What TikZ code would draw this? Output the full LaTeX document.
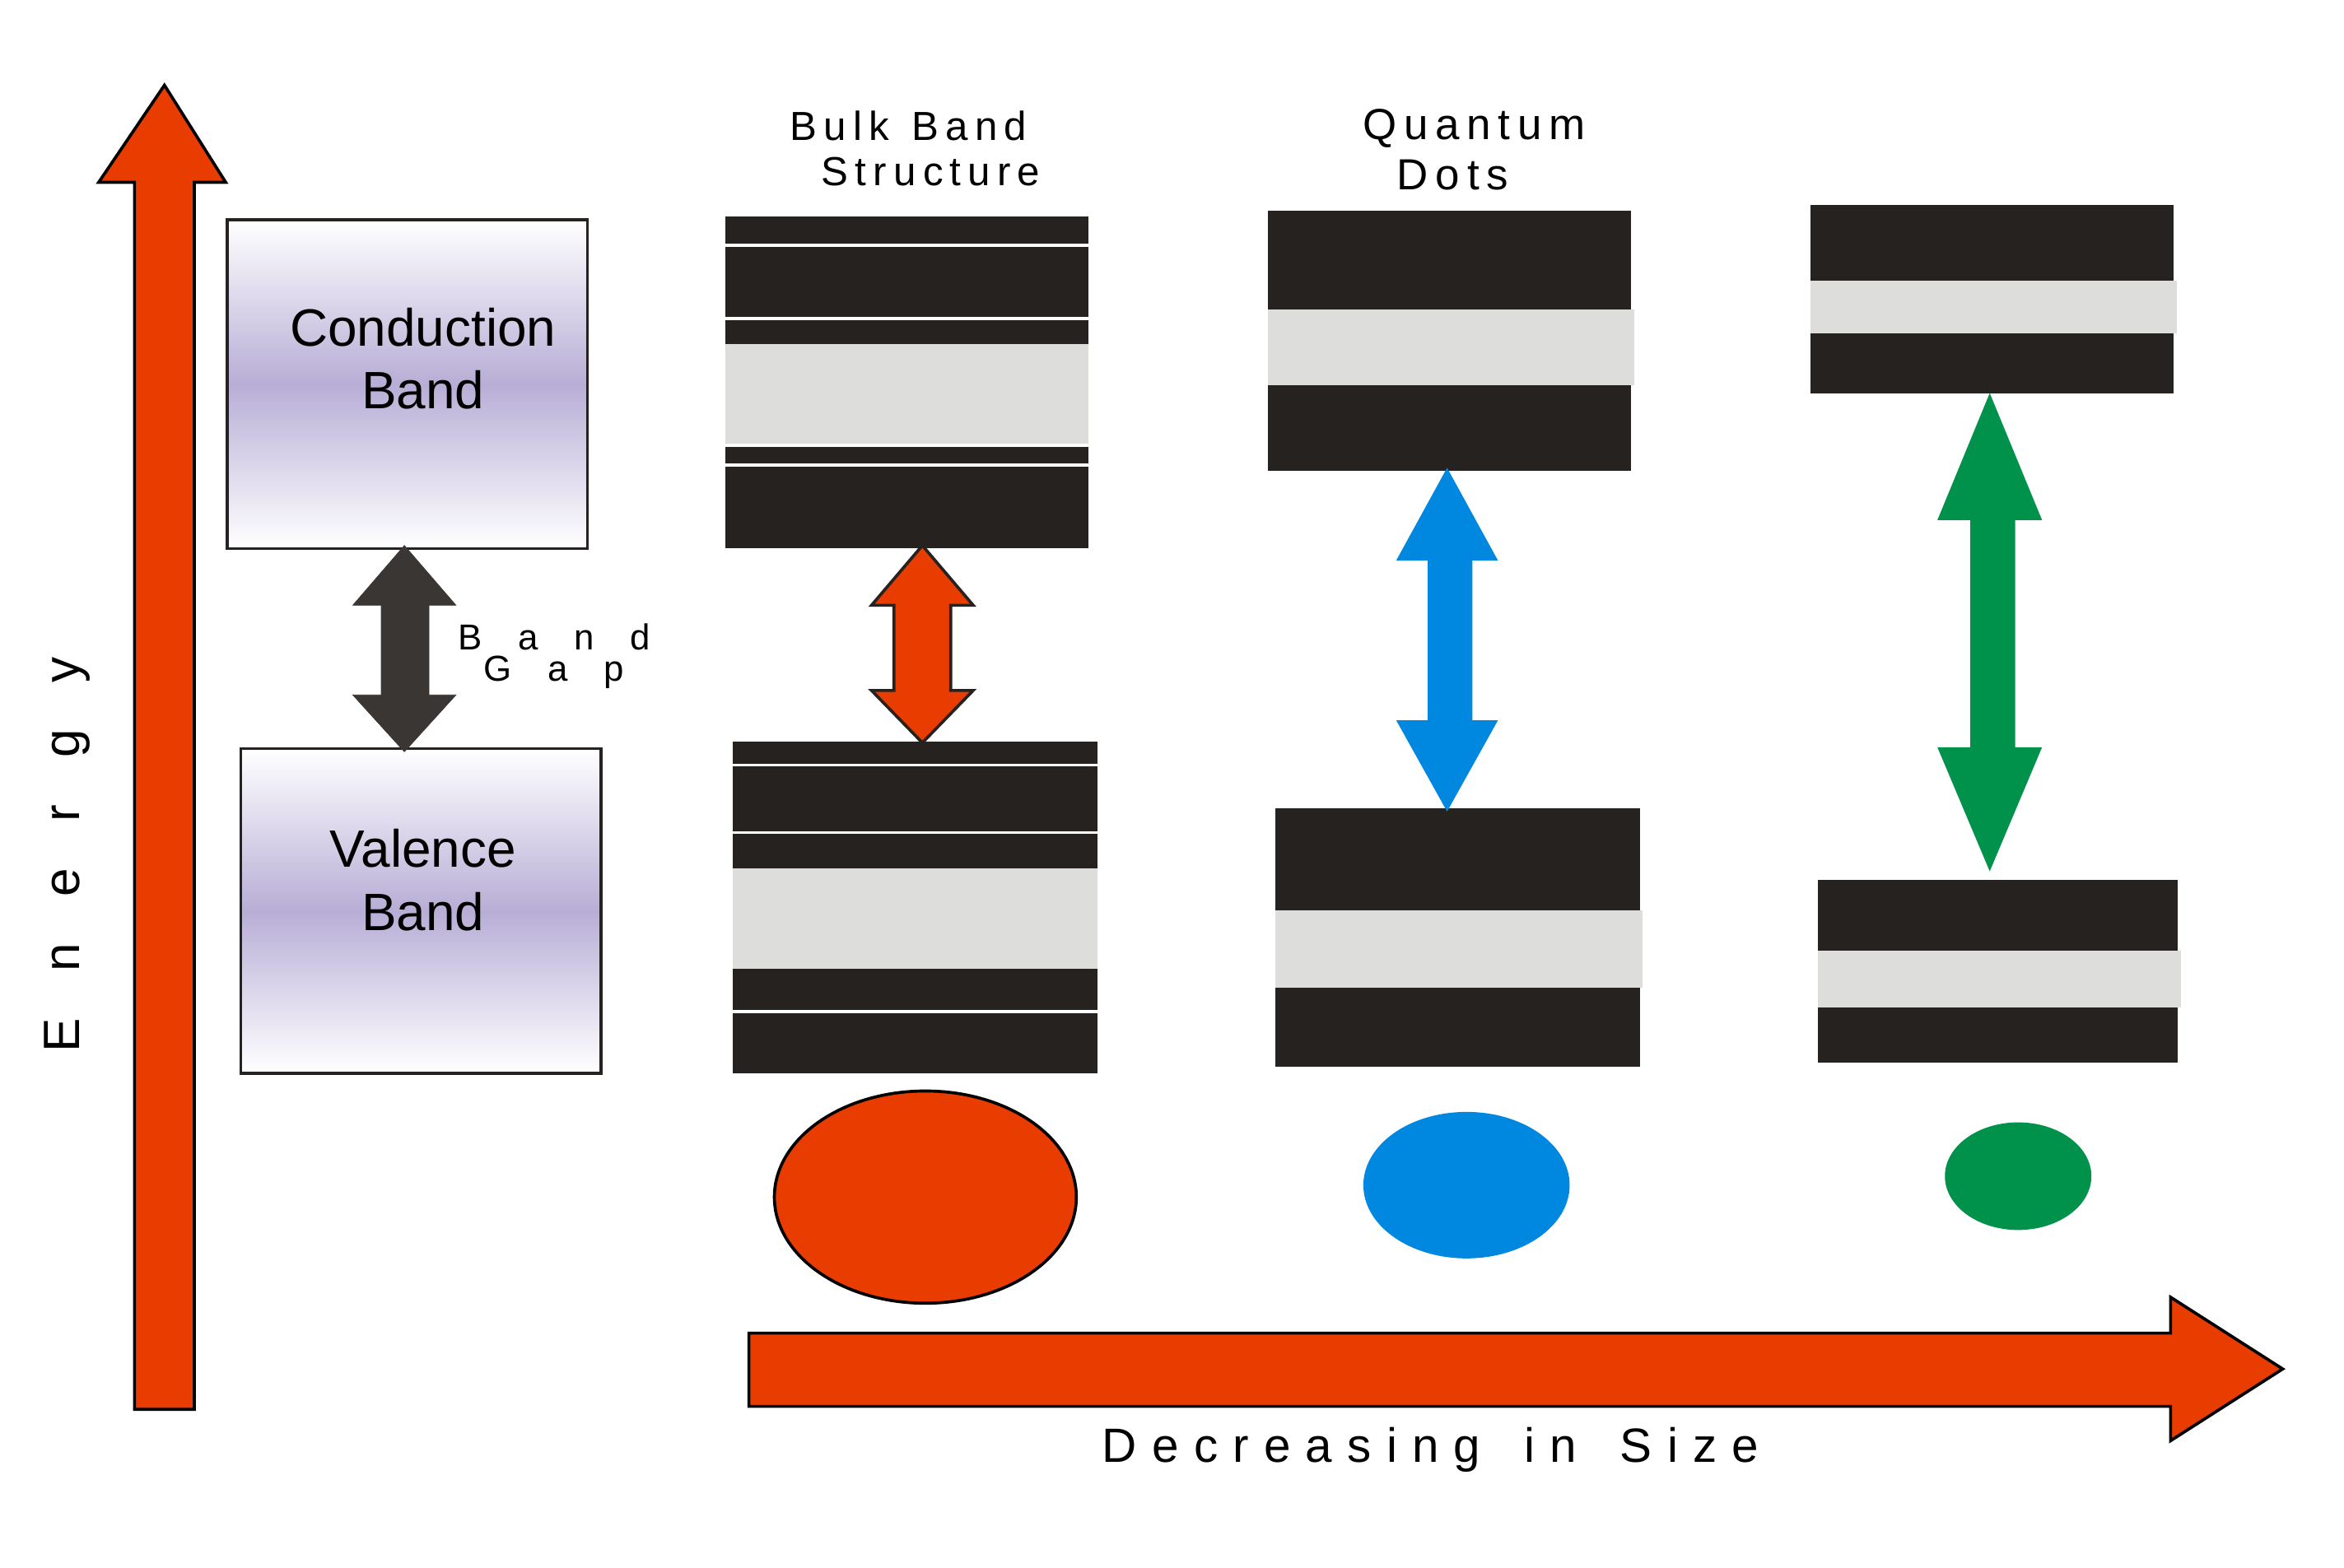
\documentclass[tikz,border=0pt]{standalone}
\usepackage{fontspec}
\setmainfont{Liberation Sans}
\definecolor{myred}{HTML}{E83C00}
\definecolor{myblue}{HTML}{0088E0}
\definecolor{mygreen}{HTML}{00914A}
\definecolor{blk}{HTML}{252220}
\definecolor{gry}{HTML}{DDDDDC}
\definecolor{lav}{HTML}{B8AED6}
\definecolor{dgr}{HTML}{3A3633}
\newcommand\dblarr[9]{% x1 x2 s1 s2 ytop yh1 yh2 ybot style
  \draw[#9] (#3,#6)--(#1,#6)--({(#1+#2)/2},#5)--(#2,#6)--(#4,#6)--(#4,#7)--(#2,#7)--({(#1+#2)/2},#8)--(#1,#7)--(#3,#7)--cycle;}
\newcommand\ls{\hspace{10pt}}
\newcommand\ws{\hspace{29pt}}
\newcommand\es{\hspace{31pt}}
\begin{document}
\begin{tikzpicture}[x=0.995pt,y=-0.995pt,
  blkbox/.style={fill=blk},
  gband/.style={fill=gry},
  wline/.style={white,line width=2pt},
  gbox/.style={draw=blk,line width=2pt,top color=white,bottom color=white,middle color=lav},
  lbl/.style={font=\fontsize{35}{42}\selectfont,align=center}]
\useasboundingbox (0,0) rectangle (1568,1049);
% energy arrow
\draw[fill=myred,line width=2pt] (90,943)--(90,122)--(66,122)--(110,57)--(151,122)--(130,122)--(130,943)--cycle;
\node[rotate=90,font=\fontsize{34}{40}\selectfont] (en) at (45,572) {E\es n\es e\es r\es g\es y};
% band boxes
\draw[gbox] (152,147) rectangle (393,367);
\node[lbl] (cb) at (283,240) {Conduction\\Band};
\draw[gbox] (161,501) rectangle (402,718);
\node[lbl] (vb) at (283,589) {Valence\\Band};
\dblarr{236}{305}{255}{287}{365}{405}{465}{503}{fill=dgr,draw=dgr}
\node[font=\fontsize{24}{28}\selectfont,anchor=west] (b1) at (303,426) {B\quad a\quad n\quad d};
\node[font=\fontsize{24}{28}\selectfont,anchor=west] (b2) at (320,450) {G\quad a\quad p};
% bulk
\node[font=\fontsize{27}{32}\selectfont,anchor=west] at (525,84) {B\,u\,l\,k\ \ B\,a\,n\,d};
\node[font=\fontsize{27}{32}\selectfont,anchor=west] at (546,115) {S\,t\,r\,u\,c\,t\,u\,r\,e};
\fill[blkbox] (485,145) rectangle (728,367);
\fill[gband] (485,230) rectangle (728,297);
\foreach \y in {164,213,298,311} \draw[wline] (485,\y)--(728,\y);
\fill[blkbox] (490,496) rectangle (734,718);
\fill[gband] (490,581) rectangle (734,648);
\foreach \y in {512,557,677} \draw[wline] (490,\y)--(734,\y);
\dblarr{583}{651}{598}{636}{365}{405}{462}{497}{fill=myred,draw=blk,line width=2pt}
% quantum dots
\node[font=\fontsize{29}{34}\selectfont,anchor=west] at (908,86) {Q\,u\,a\,n\,t\,u\,m};
\node[font=\fontsize{29}{34}\selectfont,anchor=west] at (931,117) {D\,o\,t\,s};
\fill[blkbox] (848,141) rectangle (1091,315);
\fill[gband] (848,207) rectangle (1093,258);
\fill[blkbox] (853,541) rectangle (1097,714);
\fill[gband] (853,609) rectangle (1099,661);
\dblarr{934}{1002}{955}{985}{313}{375}{482}{543}{fill=myblue,draw=none}
\fill[blkbox] (1211,137) rectangle (1454,263);
\fill[gband] (1211,188) rectangle (1456,223);
\fill[blkbox] (1216,589) rectangle (1457,711);
\fill[gband] (1216,636) rectangle (1459,674);
\dblarr{1296}{1366}{1318}{1348}{263}{348}{500}{583}{fill=mygreen,draw=none}
% dots
\draw[fill=myred,line width=2pt] (619,801) ellipse [x radius=101,y radius=71];
\fill[myblue] (981,793) ellipse [x radius=69,y radius=49];
\fill[mygreen] (1350,787) ellipse [x radius=49,y radius=36];
% size arrow
\draw[fill=myred,line width=2pt] (501,892)--(1452,892)--(1452,868)--(1527,916)--(1452,964)--(1452,941)--(501,941)--cycle;
\node[font=\fontsize{32}{40}\selectfont] (ds) at (957,970) {D\ls e\ls c\ls r\ls e\ls a\ls s\ls i\ls n\ls g\ws i\ls n\ws S\ls i\ls z\ls e};
\end{tikzpicture}
\end{document}
